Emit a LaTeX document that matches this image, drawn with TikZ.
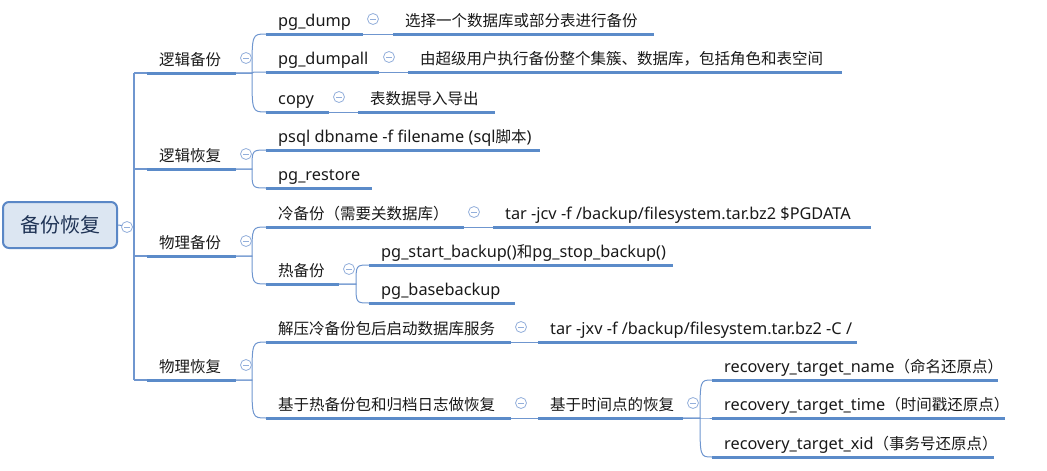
\documentclass[tikz,border=0pt]{standalone}
\usepackage{fontspec}
\setmainfont{Noto Sans}
\newfontfamily\cjk{Noto Sans CJK SC}
\definecolor{ulblue}{HTML}{5B8BC9}
\definecolor{thinblue}{HTML}{6F96CF}
\definecolor{foldc}{HTML}{93AFDB}
\definecolor{rootfill}{HTML}{DCE6F2}
\definecolor{rootline}{HTML}{5A87C6}
\definecolor{roottext}{HTML}{1F3355}
\tikzset{
  ul/.style={line width=3pt, ulblue},
  thin/.style={line width=1pt, thinblue},
  trunkline/.style={line width=1.3pt, thinblue},
  txt/.style={anchor=base west, inner sep=0pt, font=\fontsize{16.3}{19}\selectfont, text=black!90},
  fold/.style={circle, draw=foldc, line width=0.8pt, minimum size=11pt, inner sep=0pt, fill=white,
    path picture={\draw[foldc, line width=0.8pt] ([xshift=-2.6pt]path picture bounding box.center) -- ([xshift=2.6pt]path picture bounding box.center);}},
  rootbox/.style={draw=rootline, fill=rootfill, line width=2pt, rounded corners=6pt,
    minimum width=114pt, minimum height=46pt, inner sep=0pt, text=roottext, font=\fontsize{20}{24}\selectfont\cjk},
}
\newcommand\zh[1]{{\cjk\fontsize{15.5}{18}\selectfont #1}}
% \topic{name}{x1}{x2}{y}{text}
\newcommand\topic[5]{%
  \coordinate (#1-l) at (#2,#4);
  \coordinate (#1-r) at (#3,#4);
  \node[txt] (#1) at (#2+12,#4-8) {#5};
  \draw[ul] (#1-l) -- (#1-r);
}
\newcommand\foldat[1]{\node[fold] (#1-f) at ([xshift=10pt,yshift=15pt]#1-r) {};}
% \branch{parent}{child}{junction offset}
\newcommand\branch[3]{%
  \draw[thin] (#1-r) -- ++(#3,0) coordinate (#1-j) .. controls (#1-j |- #2-l) .. (#2-l);
}
\newcommand\link[2]{\draw[thin] (#1-r) -- (#2-l);}
\begin{document}
\begin{tikzpicture}[x=1pt,y=-1pt]
\useasboundingbox (0,0) rectangle (1047,471);
% root
\node[rootbox] (root) at (60,225) {备份恢复};
\coordinate (trunk) at (134,227);

% level 1
\topic{lb}{147}{236}{73}{\zh{逻辑备份}}
\topic{lr}{147}{236}{169}{\zh{逻辑恢复}}
\topic{pb}{147}{236}{256}{\zh{物理备份}}
\topic{pr}{147}{236}{380}{\zh{物理恢复}}

\draw[thin] (root.east) -- (trunk);
\draw[trunkline] (trunk |- lb-l) -- (trunk |- pr-l);
\foreach \n in {lb,lr,pb,pr} {\draw[trunkline] (trunk |- \n-l) -- (\n-l);}
\node[fold] (root-f) at (127,227) {};

% logical backup
\topic{pgdump}{266}{363}{34}{pg\_dump}
\topic{pgdumpall}{266}{379}{72}{pg\_dumpall}
\topic{copy}{266}{329}{112}{copy}
\topic{d1}{393}{654}{34}{\zh{选择一个数据库或部分表进行备份}}
\topic{d2}{408}{842}{72}{\zh{由超级用户执行备份整个集簇、数据库，包括角色和表空间}}
\topic{d3}{358}{495}{112}{\zh{表数据导入导出}}
\branch{lb}{pgdump}{16}
\branch{lb}{pgdumpall}{16}
\branch{lb}{copy}{16}
\link{pgdump}{d1}
\link{pgdumpall}{d2}
\link{copy}{d3}

% logical restore
\topic{psql}{266}{540}{150}{psql dbname -f filename (sql\zh{脚本})}
\topic{pgrestore}{266}{372}{188}{pg\_restore}
\branch{lr}{psql}{16}
\branch{lr}{pgrestore}{16}

% physical backup
\topic{cold}{266}{464}{227}{\zh{冷备份（需要关数据库）}}
\topic{hot}{266}{339}{284}{\zh{热备份}}
\topic{coldcmd}{493}{871}{227}{tar -jcv -f /backup/filesystem.tar.bz2 \$PGDATA}
\topic{pgstart}{369}{673}{265}{pg\_start\_backup()\zh{和}pg\_stop\_backup()}
\topic{pgbase}{369}{515}{303}{pg\_basebackup}
\branch{pb}{cold}{16}
\branch{pb}{hot}{16}
\link{cold}{coldcmd}
\branch{hot}{pgstart}{17}
\branch{hot}{pgbase}{17}

% physical restore
\topic{unz}{266}{511}{342}{\zh{解压冷备份包后启动数据库服务}}
\topic{hotrec}{266}{511}{418}{\zh{基于热备份包和归档日志做恢复}}
\topic{unzcmd}{538}{857}{342}{tar -jxv -f /backup/filesystem.tar.bz2 -C /}
\topic{pitr}{538}{683}{418}{\zh{基于时间点的恢复}}
\topic{rname}{712}{998}{380}{recovery\_target\_name\zh{（命名还原点）}}
\topic{rtime}{712}{1005}{418}{recovery\_target\_time\zh{（时间戳还原点）}}
\topic{rxid}{712}{994}{457}{recovery\_target\_xid\zh{（事务号还原点）}}
\branch{pr}{unz}{16}
\branch{pr}{hotrec}{16}
\link{unz}{unzcmd}
\link{hotrec}{pitr}
\branch{pitr}{rname}{17}
\branch{pitr}{rtime}{17}
\branch{pitr}{rxid}{17}

% fold markers
\foreach \n in {lb,lr,pb,pr,pgdump,pgdumpall,copy,cold,hot,unz,hotrec,pitr} {\foldat{\n}}
\end{tikzpicture}
\end{document}
